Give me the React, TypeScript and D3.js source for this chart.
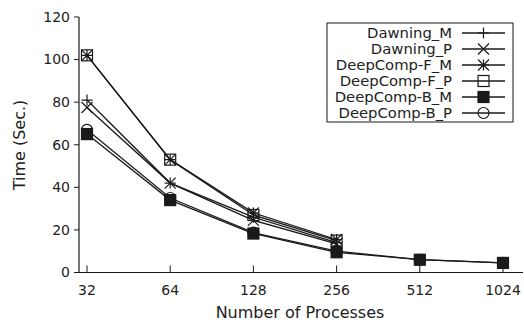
import React from "react";
import * as d3 from "d3";

const categories = ["32", "64", "128", "256", "512", "1024"];
const yTicks = [0, 20, 40, 60, 80, 100, 120];
const seriesNames = ["Dawning_M", "Dawning_P", "DeepComp-F_M", "DeepComp-F_P", "DeepComp-B_M", "DeepComp-B_P"];
const markers = ["plus", "cross", "star", "square", "filledSquare", "circle"];
const dawningM = [81, 42, 26, 14];
const dawningP = [77.5, 42, 24.5, 13.5];
const deepFM = [102, 53, 28, 15.5];
const deepFP = [102, 53, 27, 15];
const deepBM = [65, 34, 18.3, 9.5, 6, 4.5];
const deepBP = [67, 35, 18.7, 10, 6, 4.5];
const seriesValues = [dawningM, dawningP, deepFM, deepFP, deepBM, deepBP];

const W = 524, H = 322;
const ink = "#1a1a1a";
const font = "DejaVu Sans, sans-serif";

function Marker({ type, x, y }: { type: string; x: number; y: number }) {
  const s = 5.5;
  const sw = 1.2;
  switch (type) {
    case "plus":
      return <path d={`M${x - s},${y}H${x + s}M${x},${y - s}V${y + s}`} stroke={ink} strokeWidth={sw} fill="none" />;
    case "cross":
      return <path d={`M${x - s},${y - s}L${x + s},${y + s}M${x - s},${y + s}L${x + s},${y - s}`} stroke={ink} strokeWidth={sw} fill="none" />;
    case "star":
      return <path d={`M${x - s},${y}H${x + s}M${x},${y - s}V${y + s}M${x - s},${y - s}L${x + s},${y + s}M${x - s},${y + s}L${x + s},${y - s}`} stroke={ink} strokeWidth={sw} fill="none" />;
    case "square":
      return <rect x={x - s} y={y - s} width={2 * s} height={2 * s} stroke={ink} strokeWidth={sw} fill="none" />;
    case "filledSquare":
      return <rect x={x - s} y={y - s} width={2 * s} height={2 * s} stroke={ink} strokeWidth={sw} fill={ink} />;
    case "circle":
      return <circle cx={x} cy={y} r={s} stroke={ink} strokeWidth={sw} fill="none" />;
  }
  return null;
}

export default function App() {
  const x = d3.scalePoint<string>().domain(categories).range([87, 503]);
  const y = d3.scaleLinear().domain([0, 120]).range([272.5, 17]);
  const left = 79, right = 523;
  const line = d3.line<number>().x((_, i) => x(categories[i])!).y((d) => y(d));

  const legX = 327, legY = 23, legW = 186, legH = 99;
  const rowY = (i: number) => 33 + i * 16;

  return (
    <svg width={W} height={H} style={{ position: "absolute", left: 0, top: 0 }} fontFamily={font}>
      <rect width={W} height={H} fill="white" />
      {/* axes */}
      <line x1={left} x2={left} y1={y(120)} y2={y(0)} stroke={ink} strokeWidth={1.2} />
      <line x1={left} x2={right} y1={y(0)} y2={y(0)} stroke={ink} strokeWidth={1.2} />
      {yTicks.map((t) => (
        <g key={t}>
          <line x1={left - 5} x2={left} y1={y(t)} y2={y(t)} stroke={ink} strokeWidth={1} />
          <text x={left - 9} y={y(t)} dy="0.35em" textAnchor="end" fontSize={14} fill="#222">{t}</text>
        </g>
      ))}
      {categories.map((c) => (
        <g key={c}>
          <line x1={x(c)} x2={x(c)} y1={y(0)} y2={y(0) - 7} stroke={ink} strokeWidth={1} />
          <text x={x(c)} y={295} textAnchor="middle" fontSize={14} fill="#222">{c}</text>
        </g>
      ))}
      <text x={300} y={318} textAnchor="middle" fontSize={16} fill="#222">Number of Processes</text>
      <text transform={`translate(25,145) rotate(-90)`} textAnchor="middle" fontSize={16} fill="#222">Time (Sec.)</text>
      {/* series */}
      {seriesValues.map((vals, si) => (
        <g key={si}>
          <path d={line(vals) ?? ""} fill="none" stroke={ink} strokeWidth={1.3} />
          {vals.map((v, i) => (
            <Marker key={i} type={markers[si]} x={x(categories[i])!} y={y(v)} />
          ))}
        </g>
      ))}
      {/* legend */}
      <rect x={legX} y={legY} width={legW} height={legH} fill="white" stroke={ink} strokeWidth={1} />
      {seriesNames.map((n, i) => (
        <g key={n}>
          <text x={452} y={rowY(i)} dy="0.35em" textAnchor="end" fontSize={14.8} fill="#222">{n}</text>
          <line x1={462} x2={505} y1={rowY(i)} y2={rowY(i)} stroke={ink} strokeWidth={1.3} />
          <Marker type={markers[i]} x={483.5} y={rowY(i)} />
        </g>
      ))}
    </svg>
  );
}
